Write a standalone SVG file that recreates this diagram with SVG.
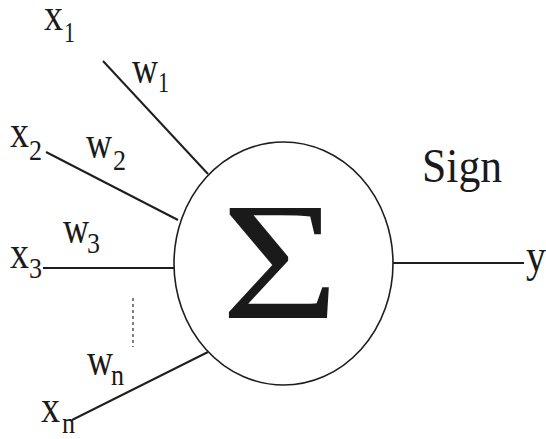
<svg xmlns="http://www.w3.org/2000/svg" width="546" height="439" viewBox="0 0 546 439">
<style>
  text { font-family: "Liberation Serif", "Times New Roman", serif; fill: #1a1a1a; }
  .v { font-size: 46px; }
  .s { font-size: 30px; }
  .edge { stroke: #1e1e1e; stroke-width: 2; fill: none; stroke-linecap: butt; }
  .dots { stroke: #555; stroke-width: 1.5; stroke-dasharray: 3 3; fill: none; }
  .node { stroke: #1e1e1e; stroke-width: 1.6; fill: #fff; }
</style>
<rect width="546" height="439" fill="#fff"/>
<g id="connectors">
  <line class="edge" x1="103" y1="61" x2="208" y2="174"/>
  <line class="edge" x1="46" y1="152" x2="178" y2="220"/>
  <line class="edge" x1="43" y1="268" x2="174" y2="268"/>
  <line class="edge" x1="72" y1="420" x2="208" y2="352"/>
  <line class="edge" x1="393" y1="263" x2="524" y2="263"/>
  <line class="dots" x1="133" y1="298" x2="133" y2="347"/>
  <g id="weights">
    <text class="v" x="132" y="83" textLength="26" lengthAdjust="spacingAndGlyphs">w</text><text class="s" x="158" y="92" textLength="11" lengthAdjust="spacingAndGlyphs">1</text>
    <text class="v" x="86" y="158" textLength="26" lengthAdjust="spacingAndGlyphs">w</text><text class="s" x="113" y="170" textLength="13" lengthAdjust="spacingAndGlyphs">2</text>
    <text class="v" x="63" y="243" textLength="26" lengthAdjust="spacingAndGlyphs">w</text><text class="s" x="87" y="253" textLength="13" lengthAdjust="spacingAndGlyphs">3</text>
    <text class="v" x="87" y="375" textLength="26" lengthAdjust="spacingAndGlyphs">w</text><text class="s" x="111" y="385" textLength="13" lengthAdjust="spacingAndGlyphs">n</text>
  </g>
</g>
<g id="x1"><text class="v" x="44" y="30" textLength="19" lengthAdjust="spacingAndGlyphs">x</text><text class="s" x="64" y="42" textLength="11" lengthAdjust="spacingAndGlyphs">1</text></g>
<g id="x2"><text class="v" x="10" y="147" textLength="19" lengthAdjust="spacingAndGlyphs">x</text><text class="s" x="29" y="160" textLength="13" lengthAdjust="spacingAndGlyphs">2</text></g>
<g id="x3"><text class="v" x="10" y="268" textLength="19" lengthAdjust="spacingAndGlyphs">x</text><text class="s" x="29" y="278" textLength="13" lengthAdjust="spacingAndGlyphs">3</text></g>
<g id="xn"><text class="v" x="41" y="422" textLength="19" lengthAdjust="spacingAndGlyphs">x</text><text class="s" x="62" y="433" textLength="13" lengthAdjust="spacingAndGlyphs">n</text></g>
<g id="neuron">
  <ellipse class="node" cx="283.5" cy="263.5" rx="109.5" ry="121.5"/>
  <text x="221" y="318" font-size="168" textLength="118" lengthAdjust="spacingAndGlyphs">Σ</text>
  <text x="422" y="182" font-size="48" textLength="80" lengthAdjust="spacingAndGlyphs">Sign</text>
</g>
<g id="y"><text class="v" x="526" y="271" textLength="20" lengthAdjust="spacingAndGlyphs">y</text></g>
</svg>
